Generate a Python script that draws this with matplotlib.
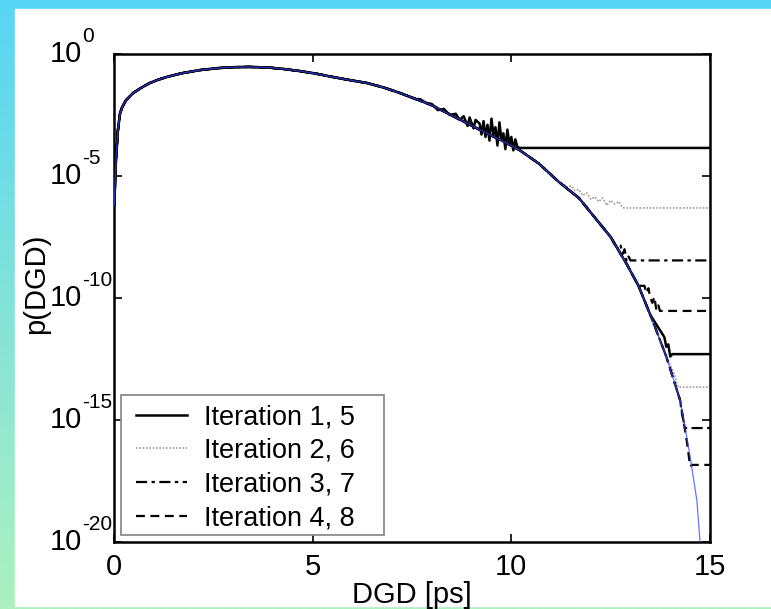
import matplotlib
matplotlib.use("Agg")
import matplotlib.pyplot as plt
import numpy as np
from matplotlib.patches import Rectangle
from matplotlib.ticker import FixedLocator, NullFormatter
from matplotlib.transforms import blended_transform_factory, offset_copy

plt.rcParams['font.family'] = ['Liberation Sans', 'DejaVu Sans']

# exact pdf of the DGD (log10 values)
theory_dgd = [0.01, 0.02, 0.05, 0.1, 0.15, 0.2, 0.3, 0.48, 0.7, 0.9, 1.1, 1.33, 1.7,
              2.16, 2.6, 3.0, 3.4, 3.85, 4.25, 4.68, 5.1, 5.5, 5.9, 6.37, 6.8, 7.2,
              7.6, 8.0, 8.6, 9.2, 9.7, 10.2, 10.7, 11.2, 11.7, 12.1, 12.5, 12.9,
              13.2, 13.5, 13.9, 14.25, 14.5, 14.67, 14.75]
theory_log = [-6.2, -5.6, -4.3, -3.1, -2.45, -2.2, -1.9, -1.6, -1.37, -1.19, -1.06, -0.94,
              -0.79, -0.66, -0.58, -0.54, -0.53, -0.55, -0.61, -0.70, -0.81, -0.94, -1.06,
              -1.19, -1.38, -1.6, -1.85, -2.1, -2.6, -3.1, -3.5, -3.93, -4.5, -5.25, -5.9,
              -6.7, -7.5, -8.6, -9.5, -10.7, -12.4, -14.2, -16.5, -18.3, -20.0]

# multicanonical estimates: noisy tail of each iteration before it drops to its floor
labels = ['Iteration 1, 5', 'Iteration 2, 6', 'Iteration 3, 7', 'Iteration 4, 8']

tail_dgd = {
    1: [7.7, 7.85, 8.0, 8.15, 8.3, 8.45, 8.6, 8.7, 8.8, 8.9, 8.95, 9.05, 9.1, 9.2,
        9.25, 9.3, 9.35, 9.4, 9.45, 9.5, 9.55, 9.6, 9.65, 9.7, 9.75, 9.8, 9.85, 9.9,
        9.95, 10.0, 10.05, 10.1, 10.15, 10.2],
    2: [11.3, 11.4, 11.5, 11.6, 11.7, 11.8, 11.9, 12.0, 12.1, 12.2, 12.3, 12.4, 12.5,
        12.6, 12.7, 12.8, 12.9],
    3: [12.6, 12.7, 12.75, 12.8, 12.85, 12.9, 12.95, 13.0],
    4: [13.35, 13.4, 13.45, 13.5, 13.55, 13.6, 13.65, 13.7, 13.74],
    5: [13.85, 13.9, 13.95, 14.0, 14.05],
    6: [14.1, 14.15, 14.2],
    7: [14.28, 14.33, 14.37],
    8: [14.42, 14.46, 14.5, 14.55],
}
tail_log = {
    1: [-1.85, -2.0, -2.05, -2.3, -2.25, -2.5, -2.45, -2.7, -2.55, -2.95, -2.6, -3.05,
        -2.7, -2.85, -3.3, -2.75, -3.4, -2.9, -3.55, -2.65, -3.3, -3.0, -3.75, -2.8,
        -3.5, -3.25, -3.9, -3.1, -3.7, -3.4, -3.95, -3.5, -3.8, -3.85],
    2: [-5.3, -5.45, -5.4, -5.6, -5.55, -5.8, -5.7, -5.95, -5.85, -6.05, -5.9, -6.2,
        -6.0, -6.15, -6.05, -6.3, -6.31],
    3: [-7.8, -8.0, -7.85, -8.2, -8.0, -8.5, -8.3, -8.46],
    4: [-9.5, -9.8, -9.6, -10.0, -10.2, -9.95, -10.5, -10.3, -10.53],
    5: [-11.6, -12.0, -11.9, -12.4, -12.3],
    6: [-13.1, -13.4, -13.65],
    7: [-14.6, -15.0, -15.33],
    8: [-15.9, -16.4, -16.9, -16.84],
}
styles = {
    'solid': dict(color='black', lw=1.8, ls='-'),
    'dotted': dict(color='#9c9c9c', lw=1.2, ls=(0, (1, 1))),
    'dashdot': dict(color='black', lw=1.6, ls=(0, (5, 2, 1.5, 2))),
    'dashed': dict(color='black', lw=1.6, ls=(0, (4, 2.5))),
}
style_order = ['solid', 'dotted', 'dashdot', 'dashed']
decades = [0, -5, -10, -15, -20]

fig = plt.figure(figsize=(7.71, 6.09), dpi=100)

# slide background: cyan to pale green, with a white panel on top
bg = fig.add_axes([0, 0, 1, 1], zorder=-2)
top = np.array([88, 213, 245]) / 255
bot = np.array([172, 241, 190]) / 255
t = np.linspace(0, 1, 256)[:, None]
grad = (top[None, :] * (1 - t) + bot[None, :] * t)[:, None, :]
bg.imshow(grad, aspect='auto', extent=[0, 1, 0, 1])
bg.add_patch(Rectangle((15 / 771, 3 / 609), 1, 1 - 12 / 609, color='white',
                       transform=bg.transAxes))
bg.set_axis_off()

ax = fig.add_axes([114 / 771, 67 / 609, 596 / 771, 488 / 609])

x_th = np.array(theory_dgd)
y_th = np.array(theory_log)

for it in range(1, 9):
    st = styles[style_order[(it - 1) % 4]]
    start = tail_dgd[it][0]
    keep = x_th < start
    xs = np.concatenate([x_th[keep], tail_dgd[it], [15.0]])
    ys = np.concatenate([y_th[keep], tail_log[it], [tail_log[it][-1]]])
    lab = labels[it - 1] if it <= 4 else None
    ax.plot(xs, 10.0 ** ys, label=lab, zorder=3 if st['color'] == 'black' else 2, **st)

ax.plot(x_th, 10.0 ** y_th, color='#3344ff', lw=0.9, zorder=4, alpha=0.75)

ax.set_yscale('log')
ax.set_xlim(0, 15)
ax.set_ylim(1e-20, 1e0)
ax.xaxis.set_major_locator(FixedLocator([0, 5, 10, 15]))
ax.yaxis.set_major_locator(FixedLocator([10.0 ** d for d in decades]))
ax.yaxis.set_minor_locator(FixedLocator([]))
ax.yaxis.set_major_formatter(NullFormatter())
ax.tick_params(which='both', direction='in', top=True, right=True, length=6,
               width=1.2, labelsize=21)
ax.tick_params(axis='x', pad=8)
for s in ax.spines.values():
    s.set_linewidth(1.8)

# y labels as "10" with a raised exponent
tr = blended_transform_factory(fig.transFigure, ax.transData)
for d in decades:
    ax.text(50 / 771, 10.0 ** d, '10', transform=tr, fontsize=21,
            ha='left', va='center')
    ax.text(82 / 771, 10.0 ** d, str(d),
            transform=offset_copy(tr, fig=fig, x=0, y=8, units='dots'),
            fontsize=15, ha='left', va='bottom')

ax.set_xlabel('DGD [ps]', fontsize=21, labelpad=0)
ax.set_ylabel('p(DGD)', fontsize=21)
ax.yaxis.set_label_coords(-(114 - 50) / 596, 0.53)

# legend: frameless entries inside a drawn box
ax.add_patch(Rectangle((7 / 596, 7 / 488), 263 / 596, 140 / 488, transform=ax.transAxes,
                       facecolor='white', edgecolor='#8c8c8c', lw=1.3, zorder=5))
leg = ax.legend(loc='upper left', bbox_to_anchor=(22 / 596, 138 / 488), borderaxespad=0,
                fontsize=19.5, handlelength=1.9, handletextpad=0.6, labelspacing=0.29,
                borderpad=0, frameon=False)
leg.set_zorder(6)

fig.savefig('out.png', dpi=100)
